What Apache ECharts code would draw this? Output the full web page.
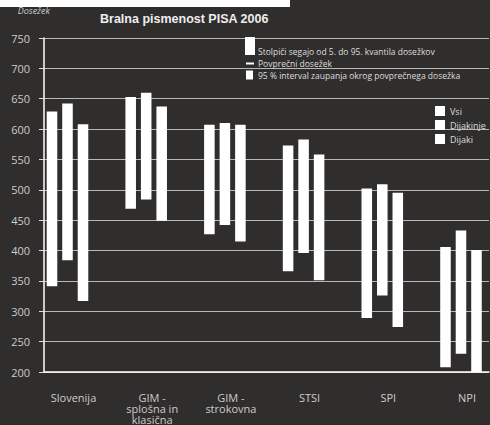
<!DOCTYPE html>
<html>
<head>
<meta charset="utf-8">
<script src="https://cdn.jsdelivr.net/npm/echarts@6/dist/echarts.min.js"></script>
<style>
html,body{margin:0;padding:0;background:#fff;overflow:hidden;}
#chart{width:490px;height:425px;}
</style>
</head>
<body>
<div id="chart"></div>
<script>
const categories = ['Slovenija', 'GIM -\nsplošna in\nklasična', 'GIM -\nstrokovna', 'STSI', 'SPI', 'NPI'];
const yTicks = { min: 200, max: 750, step: 50 };

const vsiLow = [341, 469, 427, 366, 289, 208];
const vsiHigh = [629, 653, 607, 573, 502, 406];
const dijakinjeLow = [384, 484, 442, 396, 326, 230];
const dijakinjeHigh = [642, 660, 610, 583, 509, 433];
const dijakiLow = [317, 449, 415, 351, 274, 198];
const dijakiHigh = [608, 637, 607, 558, 495, 401];

const seriesNames = ['Vsi', 'Dijakinje', 'Dijaki'];
const legendNotes = [
  'Stolpiči segajo od 5. do 95. kvantila dosežkov',
  'Povprečni dosežek',
  '95 % interval zaupanja okrog povprečnega dosežka'
];

function rows(lo, hi) { return categories.map((c, i) => [i, lo[i], hi[i]]); }

function makeRender(slot) {
  return function (params, api) {
    const x = api.value(0);
    const lo = api.coord([x, api.value(1)]);
    const hi = api.coord([x, api.value(2)]);
    const unit = api.size([1, 0])[0];
    const w = unit * 0.134;
    const off = slot * unit * 0.197;
    return {
      type: 'rect',
      shape: { x: lo[0] + off - w / 2, y: hi[1], width: w, height: lo[1] - hi[1] },
      style: { fill: '#ffffff' }
    };
  };
}

const font = 'Liberation Sans, Arial, sans-serif';
const font2 = 'Open Sans, Liberation Sans, sans-serif';

const series = [
  [vsiLow, vsiHigh],
  [dijakinjeLow, dijakinjeHigh],
  [dijakiLow, dijakiHigh]
].map((pair, k) => ({
  name: seriesNames[k],
  type: 'custom',
  clip: true,
  renderItem: makeRender(k - 1),
  itemStyle: { color: '#ffffff' },
  encode: { x: 0, y: [1, 2] },
  data: rows(pair[0], pair[1])
}));

const option = {
  backgroundColor: '#302d2d',
  animation: false,
  title: {
    text: 'Bralna pismenost PISA 2006',
    left: 95,
    top: 7,
    textStyle: { color: '#eeeeee', fontSize: 12.5, fontWeight: 'bold', fontFamily: font }
  },
  legend: {
    data: seriesNames.map(n => ({ name: n, icon: 'rect' })),
    orient: 'vertical',
    left: 430,
    top: 101,
    itemWidth: 10,
    itemHeight: 10,
    itemGap: 4,
    selectedMode: false,
    textStyle: { color: '#dddddd', fontSize: 9, fontFamily: font2 }
  },
  grid: { left: 44, right: 1, top: 38, bottom: 44 },
  xAxis: {
    type: 'value',
    min: -0.2986,
    max: 5.356,
    axisLine: { show: true, onZero: false, lineStyle: { color: '#ffffff', width: 1.5 } },
    axisTick: { show: false },
    splitLine: { show: false },
    axisLabel: {
      customValues: categories.map((c, i) => i),
      formatter: v => categories[Math.round(v)] || '',
      color: '#cccccc',
      fontSize: 11,
      lineHeight: 11,
      margin: 20,
      fontFamily: font2,
      padding: [0, 0, 0, 12]
    }
  },
  yAxis: {
    type: 'value',
    min: yTicks.min,
    max: yTicks.max,
    interval: yTicks.step,
    name: 'Dosežek',
    nameLocation: 'end',
    nameGap: 23,
    nameTextStyle: { color: '#cccccc', fontSize: 9, fontStyle: 'italic', fontFamily: font2, align: 'right', padding: [0, -6, 0, 0] },
    axisLine: { show: true, onZero: false, lineStyle: { color: '#ffffff', width: 1.5 } },
    axisTick: { show: true, length: 5, lineStyle: { color: '#dddddd' } },
    axisLabel: { color: '#cccccc', fontSize: 11, margin: 14, fontFamily: font2 },
    splitLine: { show: true, lineStyle: { color: '#b8b8b8', width: 1, type: 'solid' } }
  },
  graphic: [
    { type: 'rect', z: 100, shape: { x: 0, y: 0, width: 290, height: 7 }, style: { fill: '#ffffff' } },
    { type: 'rect', z: 100, shape: { x: 245, y: 37, width: 10, height: 18 }, style: { fill: '#ffffff' } },
    { type: 'text', z: 100, x: 258, y: 51.5, style: { text: legendNotes[0], fill: '#dddddd', fontSize: 8.5, fontFamily: font2, verticalAlign: 'middle' } },
    { type: 'rect', z: 100, shape: { x: 246, y: 62.5, width: 8, height: 2 }, style: { fill: '#ffffff' } },
    { type: 'text', z: 100, x: 258, y: 63.5, style: { text: legendNotes[1], fill: '#dddddd', fontSize: 8.5, fontFamily: font2, verticalAlign: 'middle' } },
    { type: 'rect', z: 100, shape: { x: 246, y: 70.5, width: 7, height: 9 }, style: { fill: '#ffffff' } },
    { type: 'text', z: 100, x: 258, y: 75, style: { text: legendNotes[2], fill: '#dddddd', fontSize: 8.5, fontFamily: font2, verticalAlign: 'middle' } }
  ],
  series: series
};

const chart = echarts.init(document.getElementById('chart'), null, { renderer: 'svg' });
chart.setOption(option);
</script>
</body>
</html>
